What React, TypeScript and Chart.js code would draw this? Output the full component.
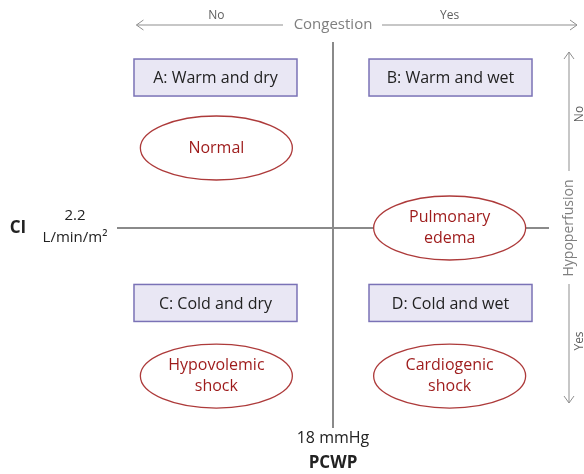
import { useEffect, useRef } from "react";
import { Chart, registerables } from "chart.js";
Chart.register(...registerables);

// Quadrant boxes (haemodynamic profiles), positioned in quadrant units (-1..1, crossing at 0)
const quadrantLabels = ["A: Warm and dry", "B: Warm and wet", "C: Cold and dry", "D: Cold and wet"];
const quadrantX = [-0.544, 0.544, -0.544, 0.544];
const quadrantY = [0.809, 0.809, -0.403, -0.403];

// Clinical conditions (ellipses)
const conditionLabels = [["Normal"], ["Pulmonary", "edema"], ["Hypovolemic", "shock"], ["Cardiogenic", "shock"]];
const conditionX = [-0.54, 0.54, -0.54, 0.54];
const conditionY = [0.43, 0, -0.796, -0.796];

// Axis lines (PCWP horizontal divider / CI vertical divider)
const hLine = [{ x: -1, y: 0 }, { x: 1, y: 0 }];
const vLine = [{ x: 0, y: 1 }, { x: 0, y: -1.075 }];

// Axis texts
const xAxisTitle = "PCWP";
const xCutoff = "18 mmHg";
const yAxisTitle = "CI";
const yCutoff = ["2.2", "L/min/m\u00B2"];
const topTitle = "Congestion";
const topLabels = ["No", "Yes"];
const rightTitle = "Hypoperfusion";
const rightLabels = ["No", "Yes"];

const FONT = "'Open Sans', 'Noto Sans', sans-serif";

export default function App() {
  const ref = useRef<HTMLCanvasElement>(null);
  useEffect(() => {
    if (!ref.current) return;
    const plugin = {
      id: "diagram",
      afterDatasetsDraw(chart: any) {
        const { ctx, scales } = chart;
        const x = scales.x;
        const y = scales.y;
        const px = (v: number) => x.getPixelForValue(v);
        const py = (v: number) => y.getPixelForValue(v);
        ctx.save();
        ctx.textAlign = "center";
        ctx.textBaseline = "middle";

        // Boxes
        const bw = 163, bh = 37;
        quadrantLabels.forEach((lab, i) => {
          const cx = px(quadrantX[i]);
          const cy = py(quadrantY[i]);
          ctx.fillStyle = "#e9e7f4";
          ctx.fillRect(cx - bw / 2, cy - bh / 2, bw, bh);
          ctx.strokeStyle = "#7a72b6";
          ctx.lineWidth = 1.5;
          ctx.strokeRect(cx - bw / 2, cy - bh / 2, bw, bh);
          ctx.fillStyle = "#222222";
          ctx.font = `16px ${FONT}`;
          ctx.fillText(lab, cx, cy + 1);
        });

        // Ellipses
        const rx = 76, ry = 32;
        conditionLabels.forEach((lines, i) => {
          const cx = px(conditionX[i]);
          const cy = py(conditionY[i]);
          ctx.beginPath();
          ctx.ellipse(cx, cy, rx, ry, 0, 0, Math.PI * 2);
          ctx.fillStyle = "#ffffff";
          ctx.fill();
          ctx.strokeStyle = "#ad3a3a";
          ctx.lineWidth = 1.3;
          ctx.stroke();
          ctx.fillStyle = "#9e1b1b";
          ctx.font = `16px ${FONT}`;
          const lh = 21;
          const start = cy - ((lines.length - 1) * lh) / 2;
          lines.forEach((t, j) => ctx.fillText(t, cx, start + j * lh));
        });

        // Arrow helper
        const gray = "#8f8f8f";
        const line = (x1: number, y1: number, x2: number, y2: number) => {
          ctx.beginPath();
          ctx.moveTo(x1, y1);
          ctx.lineTo(x2, y2);
          ctx.stroke();
        };
        ctx.strokeStyle = gray;
        ctx.lineWidth = 1;

        // Top: Congestion
        const cx0 = px(0);
        const topY = 25;
        ctx.fillStyle = "#7f7f7f";
        ctx.font = `15px ${FONT}`;
        ctx.fillText(topTitle, cx0, topY);
        const leftEnd = px(-0.91);
        line(leftEnd, topY, cx0 - 50, topY);
        line(leftEnd, topY, leftEnd + 7, topY - 5);
        line(leftEnd, topY, leftEnd + 7, topY + 5);
        const rightEnd = 577;
        line(cx0 + 49, topY, rightEnd, topY);
        line(rightEnd, topY, rightEnd - 7, topY - 5);
        line(rightEnd, topY, rightEnd - 7, topY + 5);
        ctx.font = `12px ${FONT}`;
        ctx.fillStyle = "#5f5f5f";
        ctx.fillText(topLabels[0], px(-0.54), 16);
        ctx.fillText(topLabels[1], px(0.54), 16);

        // Right: Hypoperfusion
        const ry0 = py(0);
        const rX = 569;
        ctx.save();
        ctx.translate(rX, ry0);
        ctx.rotate(-Math.PI / 2);
        ctx.fillStyle = "#7f7f7f";
        ctx.font = `14px ${FONT}`;
        ctx.fillText(rightTitle, 0, 0);
        ctx.restore();
        const topA = 52, botA = 403;
        line(rX, topA, rX, ry0 - 57);
        line(rX, topA, rX - 5, topA + 7);
        line(rX, topA, rX + 5, topA + 7);
        line(rX, ry0 + 56, rX, botA);
        line(rX, botA, rX - 5, botA - 7);
        line(rX, botA, rX + 5, botA - 7);
        ctx.font = `12px ${FONT}`;
        ctx.fillStyle = "#5f5f5f";
        [[rightLabels[0], 114], [rightLabels[1], 341]].forEach(([t, yy]) => {
          ctx.save();
          ctx.translate(580, yy as number);
          ctx.rotate(-Math.PI / 2);
          ctx.fillText(t as string, 0, 0);
          ctx.restore();
        });

        // Left: CI
        ctx.fillStyle = "#222222";
        ctx.font = `bold 17px ${FONT}`;
        ctx.fillText(yAxisTitle, 18, ry0);
        ctx.font = `15px ${FONT}`;
        ctx.fillText(yCutoff[0], 75, ry0 - 12);
        ctx.fillText(yCutoff[1], 75, ry0 + 10);

        // Bottom: PCWP
        ctx.font = `16px ${FONT}`;
        ctx.fillText(xCutoff, cx0, 438);
        ctx.font = `bold 17px ${FONT}`;
        ctx.fillText(xAxisTitle, cx0, 463);

        ctx.restore();
      },
    };
    const chart = new Chart(ref.current, {
      type: "scatter",
      data: {
        datasets: [
          { data: hLine, showLine: true, borderColor: "#8a8a8a", borderWidth: 2, pointRadius: 0, clip: false } as any,
          { data: vLine, showLine: true, borderColor: "#8a8a8a", borderWidth: 2, pointRadius: 0, clip: false } as any,
        ],
      },
      options: {
        animation: false,
        responsive: true,
        maintainAspectRatio: false,
        events: [],
        layout: { padding: { left: 117, right: 35, top: 42, bottom: 60 } },
        scales: {
          x: { type: "linear", min: -1, max: 1, display: false },
          y: { type: "linear", min: -1, max: 1, display: false },
        },
        plugins: { legend: { display: false }, tooltip: { enabled: false } },
      },
      plugins: [plugin],
    });
    return () => chart.destroy();
  }, []);
  return (
    <div style={{ position: "fixed", left: 0, top: 0, width: 584, height: 474, background: "#ffffff" }}>
      <canvas ref={ref} />
    </div>
  );
}
